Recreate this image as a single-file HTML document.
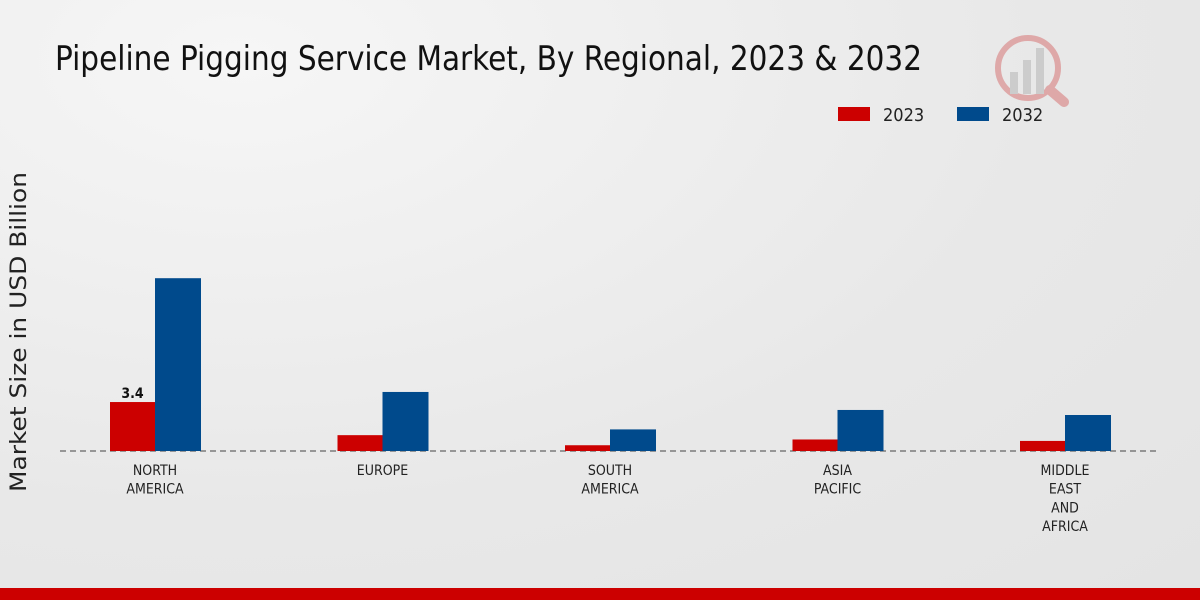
<!DOCTYPE html>
<html><head><meta charset="utf-8"><style>
html,body{margin:0;padding:0;width:1200px;height:600px;overflow:hidden;}
body{background:radial-gradient(ellipse at 20% 10%,#f6f6f6 0%,#e8e8e8 60%,#e4e4e4 100%);font-family:"DejaVu Sans","Liberation Sans",sans-serif;}
</style></head><body>
<svg id="chart" width="1200" height="600" style="position:absolute;left:0;top:0">
<text x="55" y="70" font-size="34" fill="#111" font-family="DejaVu Sans Condensed, DejaVu Sans, sans-serif" textLength="867" lengthAdjust="spacingAndGlyphs">Pipeline Pigging Service Market, By Regional, 2023 &amp; 2032</text>
<g opacity="0.35">
<circle cx="1028" cy="68" r="30" fill="none" stroke="#c33" stroke-width="6"/>
<line x1="1050" y1="90" x2="1064" y2="102" stroke="#c33" stroke-width="10" stroke-linecap="round"/>
<rect x="1010" y="72" width="8" height="22" fill="#999"/><rect x="1023" y="60" width="8" height="34" fill="#999"/><rect x="1036" y="48" width="8" height="46" fill="#999"/>
</g>
<g font-family="DejaVu Sans Condensed, DejaVu Sans, sans-serif">
<rect x="838" y="107" width="32" height="14" fill="#cc0000"/>
<text x="883" y="121" font-size="18" fill="#222">2023</text>
<rect x="957" y="107" width="32" height="14" fill="#004a8c"/>
<text x="1002" y="121" font-size="18" fill="#222">2032</text>
</g>
<text transform="translate(26,332) rotate(-90)" text-anchor="middle" font-size="22" fill="#222" textLength="320" lengthAdjust="spacingAndGlyphs">Market Size in USD Billion</text>
<line x1="60" y1="451" x2="1160" y2="451" stroke="#444" stroke-dasharray="6,4"/>
<g id="bars" font-family="DejaVu Sans Condensed, DejaVu Sans, sans-serif"></g>
<rect x="0" y="588" width="1200" height="12" fill="#cc0000"/>
</svg>
<script>
const categories=[["NORTH","AMERICA"],["EUROPE"],["SOUTH","AMERICA"],["ASIA","PACIFIC"],["MIDDLE","EAST","AND","AFRICA"]];
const values2023=[3.4,1.1,0.4,0.8,0.7];
const values2032=[12.0,4.1,1.5,2.85,2.5];
const shownLabels=["3.4",null,null,null,null];
const NS="http://www.w3.org/2000/svg";
const g=document.getElementById("bars");
const base=451, k=14.4;
const xc=i=>155+i*227.5;
const y=v=>base-v*k;
function mk(t,a){const e=document.createElementNS(NS,t);for(const n in a)e.setAttribute(n,a[n]);g.appendChild(e);return e;}
categories.forEach((c,i)=>{
  const b1=mk("rect",{x:xc(i)-45,y:y(values2023[i]),width:45,height:base-y(values2023[i]),fill:"#cc0000"});
  
  
  const b2=mk("rect",{x:xc(i),y:y(values2032[i]),width:46,height:base-y(values2032[i]),fill:"#004a8c"});
  
  
  if(shownLabels[i]){
    const t=mk("text",{x:xc(i)-22.5,y:y(values2023[i])-4,"text-anchor":"middle","font-size":"14","font-weight":"bold",fill:"#111"});
    t.textContent=shownLabels[i];
    
    
  }
  c.forEach((ln,j)=>{
    const t=mk("text",{x:xc(i),y:475+j*18.7,"text-anchor":"middle","font-size":"14",fill:"#222"});
    t.textContent=ln;
    
    
  });
});
</script>
</body></html>
